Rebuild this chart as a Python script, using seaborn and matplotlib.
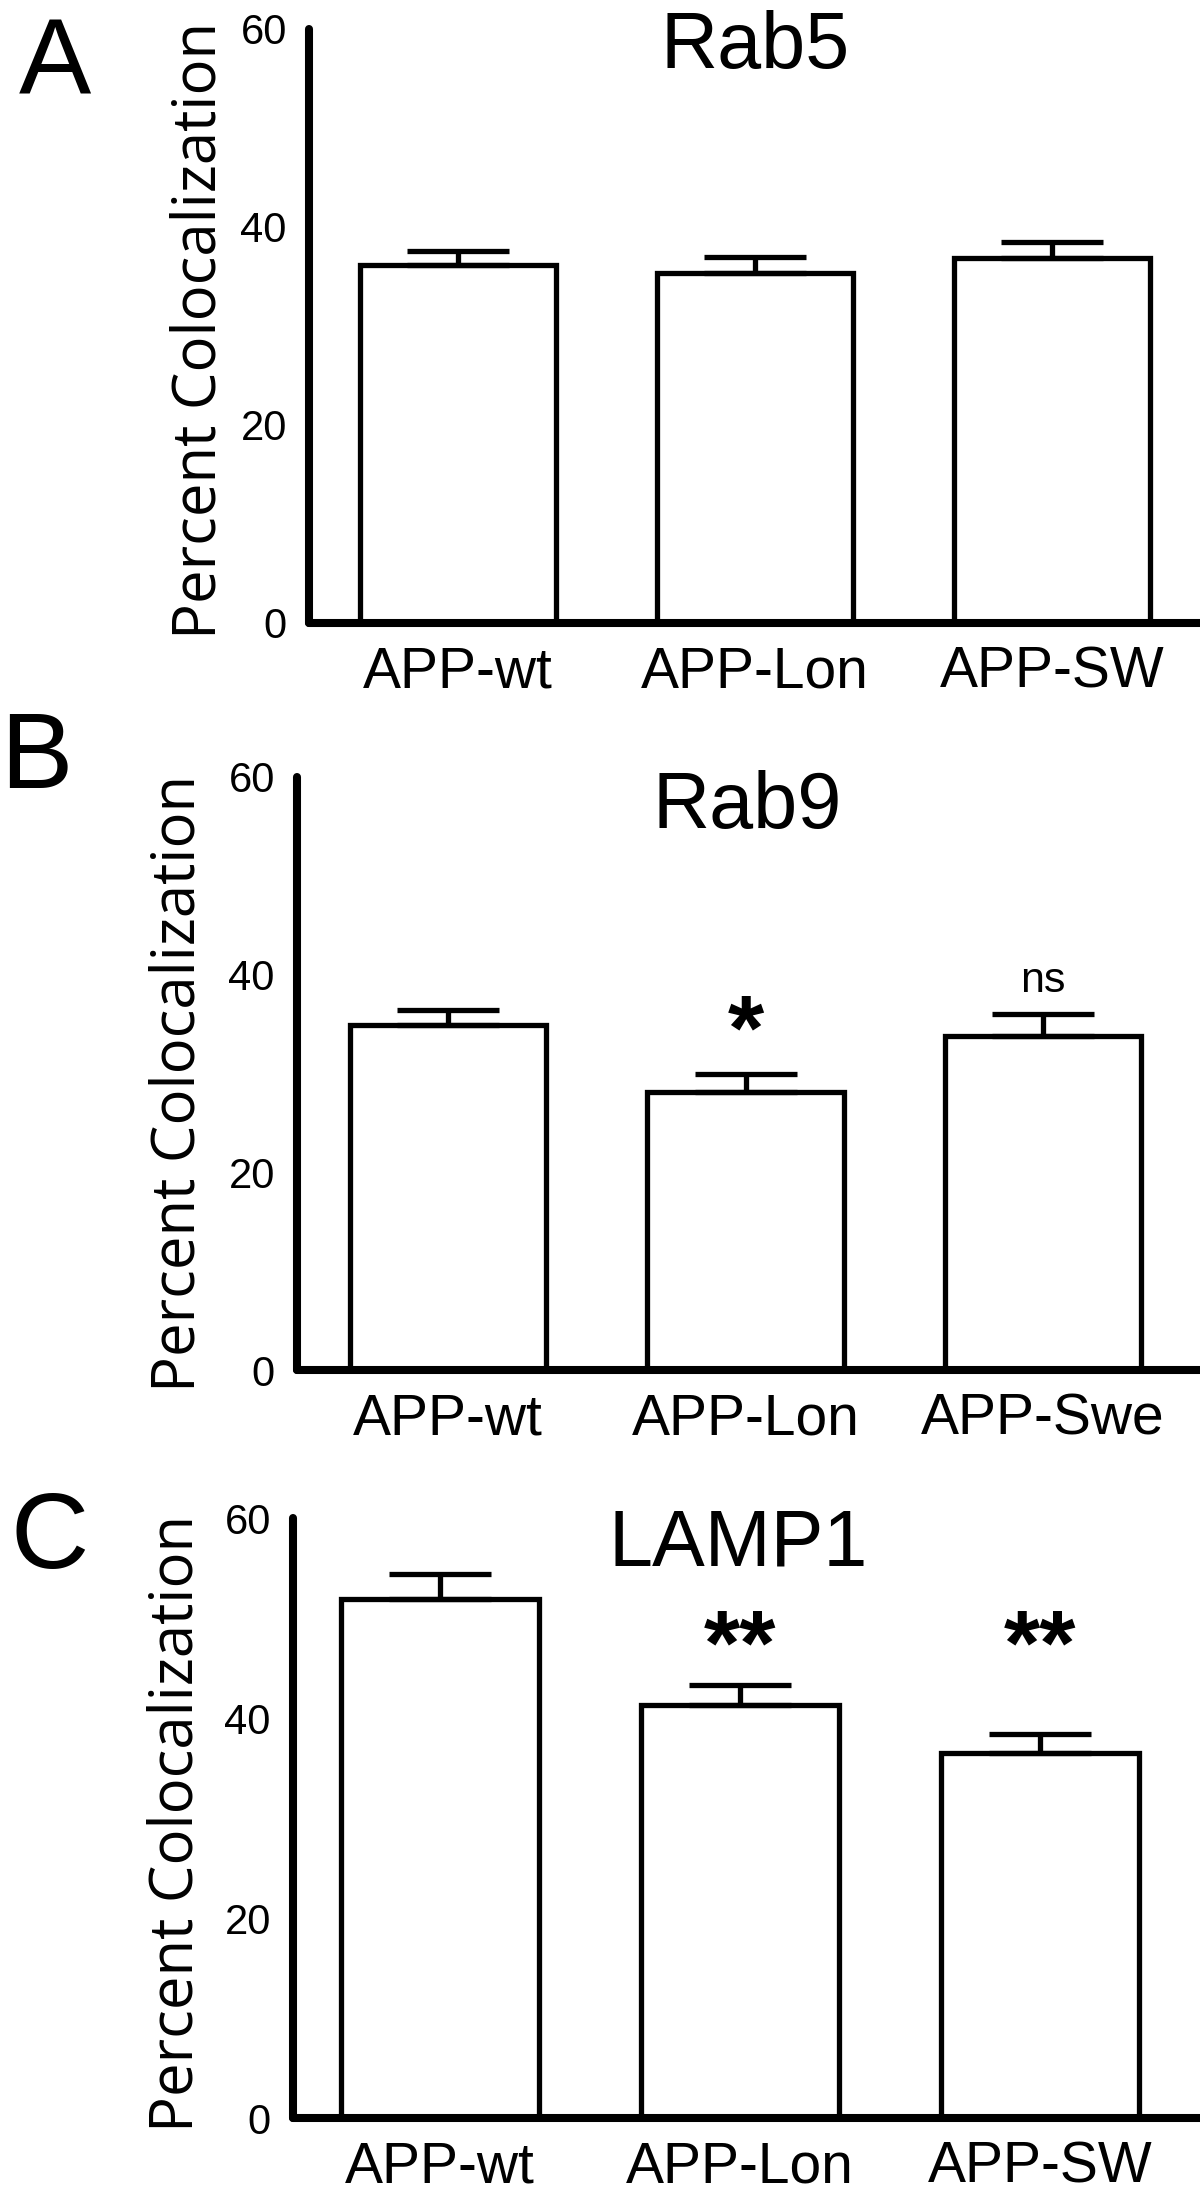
import numpy as np
import seaborn as sns
from matplotlib import pyplot as plt

# values (mean and upper SEM)
groups_a = ["APP-wt", "APP-Lon", "APP-SW"]
groups_b = ["APP-wt", "APP-Lon", "APP-Swe"]
groups_c = ["APP-wt", "APP-Lon", "APP-SW"]

rab5_mean = [36.2, 35.4, 36.9]
rab5_sem = [1.4, 1.6, 1.6]
rab9_mean = [34.9, 28.1, 33.8]
rab9_sem = [1.5, 1.85, 2.2]
lamp1_mean = [51.9, 41.3, 36.5]
lamp1_sem = [2.5, 2.0, 1.9]

rab9_marks = ["", "*", "ns"]
lamp1_marks = ["", "**", "**"]

sns.set_style("white")
plt.rcParams['font.family'] = ['Liberation Sans', 'DejaVu Sans']
plt.rcParams['text.color'] = 'black'
plt.rcParams['axes.edgecolor'] = 'black'
plt.rcParams['xtick.color'] = 'black'
plt.rcParams['ytick.color'] = 'black'
plt.rcParams['axes.labelcolor'] = 'black'

W, H = 1200, 2199
fig = plt.figure(figsize=(W / 100, H / 100), dpi=100)

# (left px, top px, bottom px, xlim) for each panel
layout = [
    (309, 29, 623, (-0.502, 2.498)),
    (297, 777, 1370, (-0.508, 2.528)),
    (293, 1518, 2118, (-0.49, 2.533)),
]
panels = [
    ("A", "Rab5", groups_a, rab5_mean, rab5_sem, None),
    ("B", "Rab9", groups_b, rab9_mean, rab9_sem, rab9_marks),
    ("C", "LAMP1", groups_c, lamp1_mean, lamp1_sem, lamp1_marks),
]
letter_pos = [(19, 94), (0, 788), (11, 1568)]
title_pos = [(755, 68), (747, 828), (738, 1566)]
ylabel_pos = [(200, 330), (179, 1083), (177, 1823)]

for i, (letter, name, groups, mean, sem, marks) in enumerate(panels):
    left, top, bottom, xlim = layout[i]
    ax = fig.add_axes([left / W, 1 - bottom / H, 1 - left / W, (bottom - top) / H])
    sns.barplot(x=groups, y=mean, ax=ax, color="white", edgecolor="black",
                linewidth=3.8, width=0.66, errorbar=None, saturation=1)
    ax.errorbar(np.arange(3), mean, yerr=[np.zeros(3), sem], fmt="none",
                ecolor="black", elinewidth=3.8, capsize=37, capthick=3.8,
                zorder=1)
    ax.set_ylim(0, 60)
    ax.set_xlim(*xlim)
    ax.set_yticks([0, 20, 40, 60])
    sns.despine(ax=ax)
    for s in ["left", "bottom"]:
        ax.spines[s].set_linewidth(5.8)
        ax.spines[s].set_color("black")
        ax.spines[s].set_capstyle("round")
    ax.tick_params(axis="y", length=13, width=5.8, labelsize=30, pad=3,
                   direction="out", colors="black")
    ax.tick_params(axis="x", length=0, labelsize=41, pad=16, colors="black")
    ax.set_facecolor("none")
    if marks:
        for j, m in enumerate(marks):
            if m == "ns":
                ax.text(j, 39.4, m, ha="center", va="center", fontsize=31)
            elif m:
                ax.text(j, 46.8 if i == 2 else 33.85, m, ha="center", va="center",
                        fontsize=67, fontweight="bold")
    lx, ly = letter_pos[i]
    fig.text(lx / W, 1 - ly / H, letter, fontsize=78, ha="left", va="baseline")
    tx, ty = title_pos[i]
    fig.text(tx / W, 1 - ty / H, name, fontsize=57, ha="center", va="baseline")
    yx, yy = ylabel_pos[i]
    fig.text(yx / W, 1 - yy / H, "Percent Colocalization", rotation=90,
             ha="center", va="center", fontsize=43,
             family=["Open Sans", "DejaVu Sans"])

fig.savefig("out.png", dpi=100)
